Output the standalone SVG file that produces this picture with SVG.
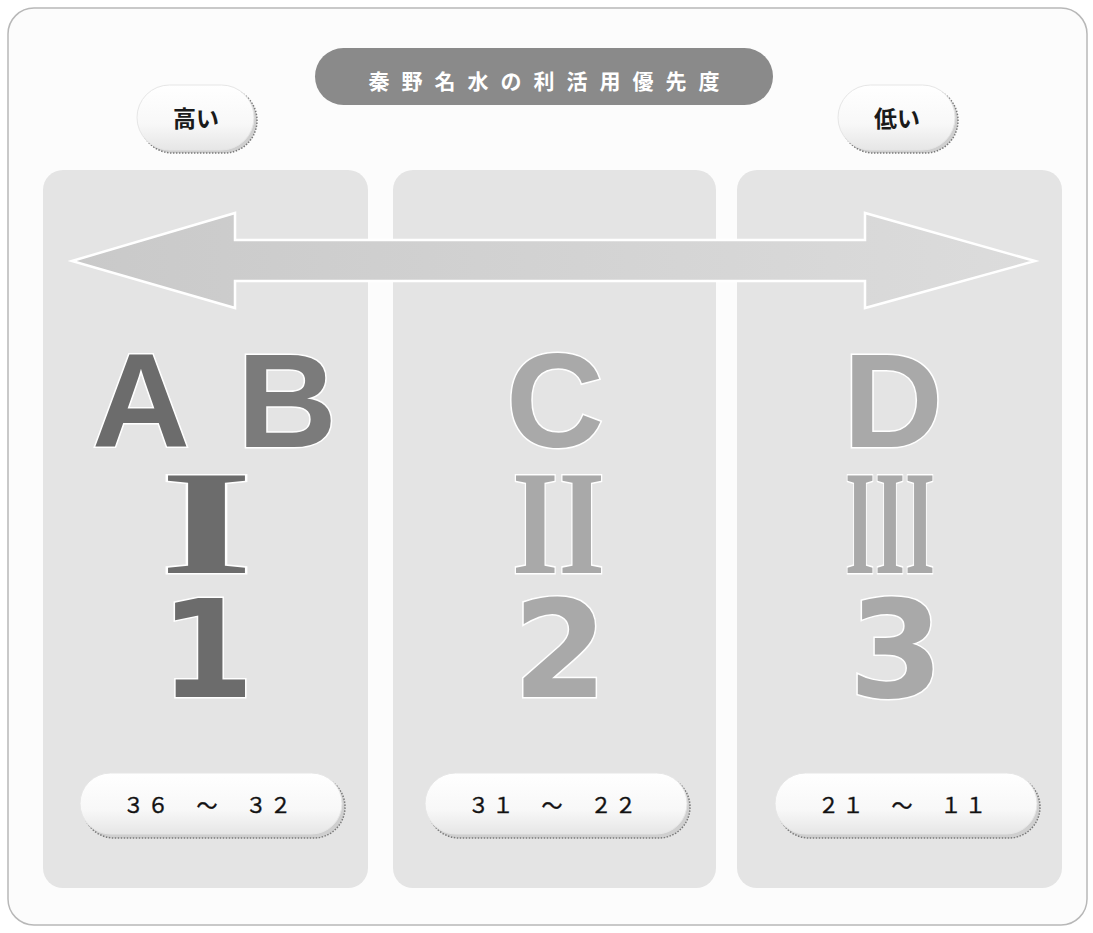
<svg xmlns="http://www.w3.org/2000/svg" width="1093" height="933" viewBox="0 0 1093 933">
<defs>
<linearGradient id="pillGrad" x1="0" y1="0" x2="0" y2="1">
<stop offset="0" stop-color="#ffffff"/>
<stop offset="0.6" stop-color="#f8f8f8"/>
<stop offset="1" stop-color="#e6e6e6"/>
</linearGradient>
<linearGradient id="arrowGrad" x1="0" y1="0" x2="1" y2="0">
<stop offset="0" stop-color="#c9c9c9"/>
<stop offset="1" stop-color="#dcdcdc"/>
</linearGradient>
</defs>
<style>
.frame{fill:#fcfcfc;stroke:#b8b8b8;stroke-width:1.5}
.col{fill:#e4e4e4}
.arrow{fill:url(#arrowGrad);stroke:#ffffff;stroke-width:2.5;stroke-linejoin:miter}
.title{fill:#8a8a8a}
.titletxt{font-family:"Noto Sans CJK JP",sans-serif;font-size:21px;font-weight:bold;fill:#ffffff;letter-spacing:12px}
.shadow{fill:#cfcfcf;stroke:#7a7a7a;stroke-width:1.5;stroke-dasharray:1.5 1.5}
.pill{fill:url(#pillGrad);stroke:#e6e6e6;stroke-width:1}
.pilltxt{font-family:"Noto Sans CJK JP",sans-serif;font-size:23px;font-weight:bold;fill:#1a1a1a}
.rangetxt{font-family:"Liberation Sans","Noto Sans CJK JP",sans-serif;font-size:21px;fill:#111111;stroke:#111111;stroke-width:0.4;letter-spacing:3.5px}
.big{font-family:"Liberation Sans",Arial,sans-serif;font-weight:bold;font-size:134px;stroke:#ffffff;stroke-width:3;paint-order:stroke}
.roman{font-family:"Liberation Serif","Times New Roman",serif;font-weight:bold;font-size:148px;stroke:#ffffff;stroke-width:3;paint-order:stroke}
.num{font-family:"DejaVu Sans",sans-serif;font-weight:bold;font-size:136px;stroke:#ffffff;stroke-width:3;paint-order:stroke;text-anchor:middle}
.dark{fill:#6c6c6c}
.darkb{fill:#7b7b7b}
.light{fill:#a9a9a9}
</style>

<rect class="frame" x="8" y="8" width="1079" height="917" rx="26"/>

<g id="col1"><rect class="col" x="43" y="170" width="325" height="718" rx="20"/></g>
<g id="col2"><rect class="col" x="393" y="170" width="323" height="718" rx="20"/></g>
<g id="col3"><rect class="col" x="737" y="170" width="325" height="718" rx="20"/></g>

<g id="connectors">
<path class="arrow" d="M72,261 L235,213 L235,240 L865,240 L865,213 L1035,261 L865,308 L865,281 L235,281 L235,308 Z"/>
</g>

<g id="title">
<rect class="title" x="315" y="48" width="458" height="57" rx="28.5"/>
<text class="titletxt" x="550" y="89" text-anchor="middle">秦野名水の利活用優先度</text>
</g>

<g id="high">
<rect class="shadow" x="140" y="88" width="117" height="65" rx="32.5"/>
<rect class="pill" x="137" y="85" width="117" height="65" rx="32.5"/>
<text class="pilltxt" x="196" y="127" text-anchor="middle">高い</text>
</g>

<g id="low">
<rect class="shadow" x="841" y="88" width="117" height="65" rx="32.5"/>
<rect class="pill" x="838" y="85" width="117" height="65" rx="32.5"/>
<text class="pilltxt" x="897" y="127" text-anchor="middle">低い</text>
</g>

<g id="group1">
<text class="big dark" x="92" y="447" textLength="98" lengthAdjust="spacingAndGlyphs">A</text>
<text class="big darkb" x="237" y="447" textLength="100" lengthAdjust="spacingAndGlyphs">B</text>
<text class="roman dark" x="160" y="573" textLength="93" lengthAdjust="spacingAndGlyphs">I</text>
<text class="num dark" x="207" y="697">1</text>
</g>

<g id="group2">
<text class="big light" x="506" y="447" textLength="98" lengthAdjust="spacingAndGlyphs">C</text>
<text class="roman light" x="512" y="573" textLength="93" lengthAdjust="spacingAndGlyphs">II</text>
<text class="num light" x="560" y="697">2</text>
</g>

<g id="group3">
<text class="big light" x="843" y="447" textLength="100" lengthAdjust="spacingAndGlyphs">D</text>
<text class="roman light" x="845" y="573" textLength="90" lengthAdjust="spacingAndGlyphs">III</text>
<text class="num light" x="896" y="697">3</text>
</g>

<g id="range1">
<rect class="shadow" x="83" y="776" width="262" height="62" rx="31"/>
<rect class="pill" x="80" y="773" width="262" height="61" rx="30.5"/>
<text class="rangetxt" x="123" y="813">３６　～　３２</text>
</g>

<g id="range2">
<rect class="shadow" x="428" y="776" width="262" height="62" rx="31"/>
<rect class="pill" x="425" y="773" width="262" height="61" rx="30.5"/>
<text class="rangetxt" x="468" y="813">３１　～　２２</text>
</g>

<g id="range3">
<rect class="shadow" x="778" y="776" width="262" height="62" rx="31"/>
<rect class="pill" x="775" y="773" width="262" height="61" rx="30.5"/>
<text class="rangetxt" x="818" y="813">２１　～　１１</text>
</g>
</svg>
